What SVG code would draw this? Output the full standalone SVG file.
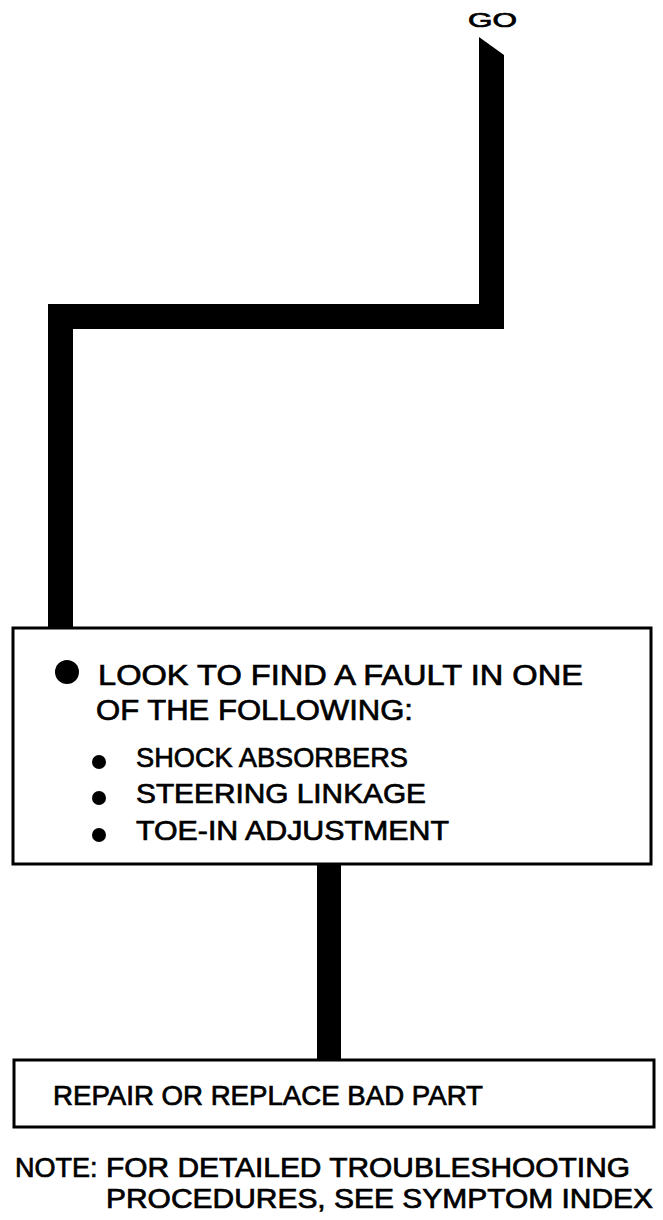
<svg xmlns="http://www.w3.org/2000/svg" width="663" height="1220" viewBox="0 0 663 1220">
<style>
.box{fill:#fff;stroke:#000;stroke-width:3}
.t{font-family:"Liberation Sans",Arial,sans-serif;fill:#000;stroke:#000;stroke-width:0.7}
.conn{fill:#000}
</style>
<rect width="663" height="1220" fill="#fff"/>
<g id="connectors">
<polygon class="conn" points="479,37 504,55 504,329 73,329 73,629 48,629 48,304 479,304"/>
<rect class="conn" x="317" y="863" width="24" height="198"/>
</g>
<g id="go">
<text class="t" x="468" y="27" font-size="20" textLength="49" lengthAdjust="spacingAndGlyphs">GO</text>
</g>
<g id="look">
<rect class="box" x="13" y="628" width="638" height="236"/>
<circle cx="67" cy="672" r="12"/>
<text class="t" x="98" y="685" font-size="30" textLength="485" lengthAdjust="spacingAndGlyphs">LOOK TO FIND A FAULT IN ONE</text>
<text class="t" x="96" y="720" font-size="30" textLength="317" lengthAdjust="spacingAndGlyphs">OF THE FOLLOWING:</text>
<circle cx="99" cy="762" r="7"/>
<circle cx="99" cy="798" r="7"/>
<circle cx="99" cy="835" r="7"/>
<text class="t" x="136" y="767" font-size="28" textLength="272" lengthAdjust="spacingAndGlyphs">SHOCK ABSORBERS</text>
<text class="t" x="136" y="803" font-size="28" textLength="290" lengthAdjust="spacingAndGlyphs">STEERING LINKAGE</text>
<text class="t" x="136" y="840" font-size="28" textLength="313" lengthAdjust="spacingAndGlyphs">TOE-IN ADJUSTMENT</text>
</g>
<g id="repair">
<rect class="box" x="14" y="1060" width="640" height="67"/>
<text class="t" x="53" y="1105" font-size="27" textLength="430" lengthAdjust="spacingAndGlyphs">REPAIR OR REPLACE BAD PART</text>
</g>
<g id="note">
<text class="t" x="15" y="1177" font-size="27">NOTE:</text>
<text class="t" x="106" y="1177" font-size="27" textLength="524" lengthAdjust="spacingAndGlyphs">FOR DETAILED TROUBLESHOOTING</text>
<text class="t" x="106" y="1208" font-size="27" textLength="547" lengthAdjust="spacingAndGlyphs">PROCEDURES, SEE SYMPTOM INDEX</text>
</g>
</svg>
